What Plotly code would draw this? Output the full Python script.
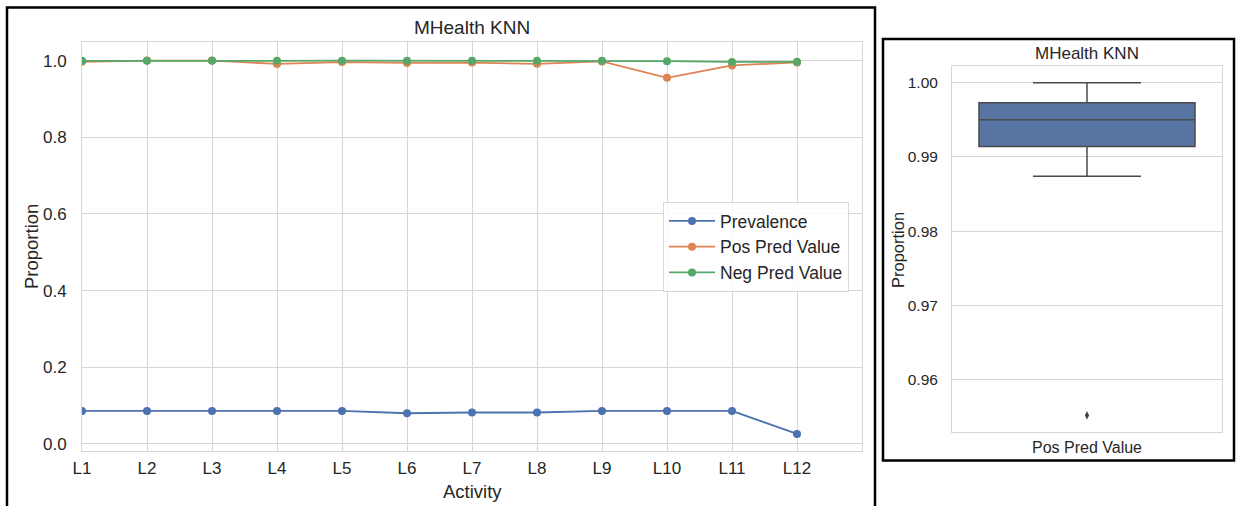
import plotly.graph_objects as go

W, H = 1241, 506

activities = ["L1", "L2", "L3", "L4", "L5", "L6", "L7", "L8", "L9", "L10", "L11", "L12"]
prevalence = [0.086, 0.086, 0.086, 0.086, 0.086, 0.080, 0.082, 0.082, 0.086, 0.086, 0.086, 0.026]
pos_pred_value = [0.9968, 1.0, 1.0, 0.9913, 0.9962, 0.9940, 0.9948, 0.9915, 0.9978, 0.9552, 0.9874, 0.9952]
neg_pred_value = [0.9993, 0.9999, 0.9999, 0.9995, 0.9997, 0.9996, 0.9996, 0.9995, 0.9999, 0.9985, 0.9965, 0.9968]

left_yticks = [0.0, 0.2, 0.4, 0.6, 0.8, 1.0]
right_yticks = [0.96, 0.97, 0.98, 0.99, 1.00]

series = [
    ("Prevalence", prevalence, "#4C72B0"),
    ("Pos Pred Value", pos_pred_value, "#DD8452"),
    ("Neg Pred Value", neg_pred_value, "#55A868"),
]

FONT = "Liberation Sans, Arial, sans-serif"
TXT = "#262626"
GRID = "#d6d6d6"

def px(x):
    return x / W

def py(y):
    return 1 - y / H

fig = go.Figure()

for name, vals, col in series:
    fig.add_trace(go.Scatter(
        x=activities, y=vals, name=name, mode="lines+markers",
        line=dict(color=col, width=1.8),
        marker=dict(color=col, size=8),
        xaxis="x", yaxis="y",
    ))

fig.add_trace(go.Box(
    x=["Pos Pred Value"] * len(pos_pred_value), y=pos_pred_value,
    name="Pos Pred Value", showlegend=False,
    boxpoints="outliers", quartilemethod="linear",
    fillcolor="#5874A2", line=dict(color="#4a4a4a", width=1.5),
    marker=dict(symbol="diamond-tall", size=6, color="#3f3f3f"),
    width=0.8, whiskerwidth=0.5,
    xaxis="x2", yaxis="y2",
))

fig.update_layout(
    width=W, height=H,
    margin=dict(l=0, r=0, t=0, b=0),
    paper_bgcolor="white", plot_bgcolor="white",
    font=dict(family=FONT, color=TXT),
    xaxis=dict(
        domain=[px(82), px(862)], range=[0, 12], type="category",
        categoryorder="array", categoryarray=activities,
        showgrid=True, gridcolor=GRID, gridwidth=1,
        showline=True, linecolor=GRID, linewidth=1, mirror=True,
        ticks="", ticklabelstandoff=2, zeroline=False,
        tickfont=dict(size=17, color=TXT), anchor="y", automargin=False,
    ),
    yaxis=dict(
        domain=[py(451), py(42)], range=[-0.0185, 1.0485],
        tickvals=left_yticks, tickformat=".1f",
        showgrid=True, gridcolor=GRID, gridwidth=1,
        showline=True, linecolor=GRID, linewidth=1, mirror=True,
        ticks="", ticklabelstandoff=11, zeroline=False,
        tickfont=dict(size=17, color=TXT), anchor="x", automargin=False,
    ),
    xaxis2=dict(
        domain=[px(952), px(1222)], range=[-0.5, 0.5], type="category",
        showgrid=False, showline=True, linecolor=GRID, linewidth=1, mirror=True,
        ticks="", ticklabelstandoff=1, zeroline=False,
        tickfont=dict(size=16, color=TXT), anchor="y2", automargin=False,
    ),
    yaxis2=dict(
        domain=[py(432), py(66)], range=[0.95296, 1.00224],
        tickvals=right_yticks, tickformat=".2f",
        showgrid=True, gridcolor=GRID, gridwidth=1,
        showline=True, linecolor=GRID, linewidth=1, mirror=True,
        ticks="", ticklabelstandoff=10, zeroline=False,
        tickfont=dict(size=15.5, color=TXT), anchor="x2", automargin=False,
    ),
    legend=dict(
        x=px(663), y=py(202), xanchor="left", yanchor="top",
        bgcolor="rgba(255,255,255,0.85)", bordercolor="#d9d9d9", borderwidth=1,
        font=dict(size=17.5, color=TXT), itemwidth=46, tracegroupgap=0,
    ),
    showlegend=True,
    annotations=[
        dict(text="MHealth KNN", x=px(472), y=py(27), xref="paper", yref="paper",
             showarrow=False, xanchor="center", yanchor="middle", font=dict(size=19, color=TXT)),
        dict(text="Activity", x=px(472), y=py(491), xref="paper", yref="paper",
             showarrow=False, xanchor="center", yanchor="middle", font=dict(size=18.5, color=TXT)),
        dict(text="Proportion", x=px(31), y=py(247), xref="paper", yref="paper", textangle=-90,
             showarrow=False, xanchor="center", yanchor="middle", font=dict(size=18.5, color=TXT)),
        dict(text="MHealth KNN", x=px(1087), y=py(53), xref="paper", yref="paper",
             showarrow=False, xanchor="center", yanchor="middle", font=dict(size=17, color=TXT)),
        dict(text="Proportion", x=px(898), y=py(250), xref="paper", yref="paper", textangle=-90,
             showarrow=False, xanchor="center", yanchor="middle", font=dict(size=16.5, color=TXT)),
    ],
    shapes=[
        dict(type="rect", xref="paper", yref="paper", x0=px(7), x1=px(875), y0=py(520), y1=py(7.5),
             line=dict(color="black", width=2.5)),
        dict(type="rect", xref="paper", yref="paper", x0=px(883), x1=px(1234), y0=py(460.5), y1=py(39),
             line=dict(color="black", width=2.5)),
    ],
)

fig.write_html("out.html")
